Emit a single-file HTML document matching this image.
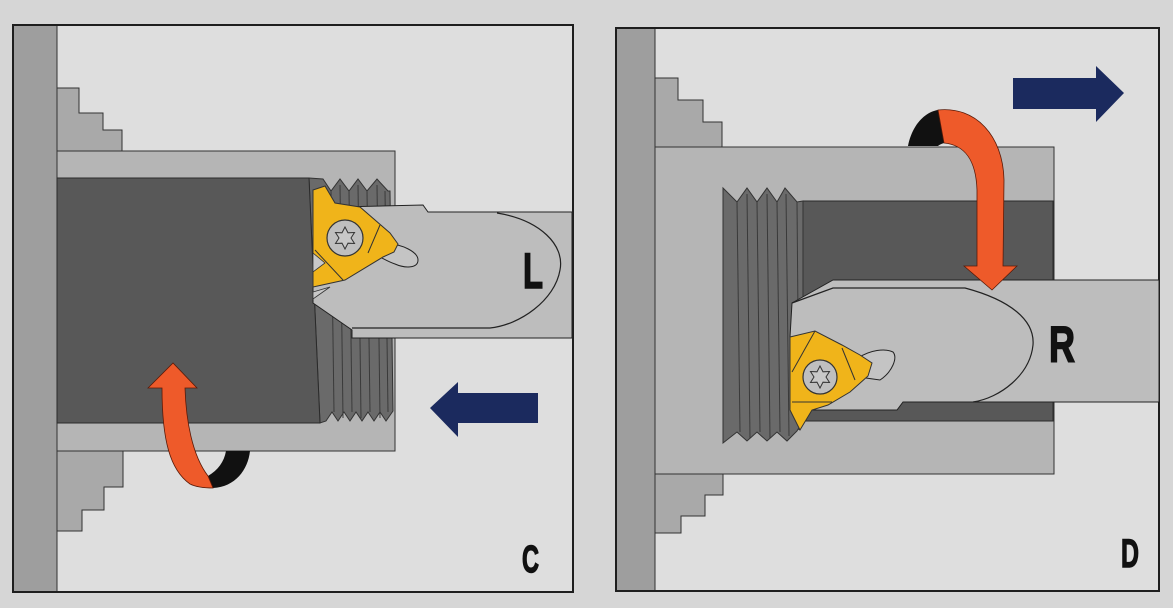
<!DOCTYPE html>
<html><head><meta charset="utf-8"><style>
html,body{margin:0;padding:0;background:#d6d6d6;}
svg{display:block;}
</style></head><body>
<svg width="1173" height="608" viewBox="0 0 1173 608" xmlns="http://www.w3.org/2000/svg">
<rect x="0" y="0" width="1173" height="608" fill="#d6d6d6"/>

<!-- ================= PANEL C ================= -->
<rect x="13" y="25" width="560" height="567" fill="#dedede" stroke="#1e1e1e" stroke-width="2"/>
<rect x="14" y="26" width="43" height="565" fill="#9e9e9e"/>
<line x1="57" y1="26" x2="57" y2="591" stroke="#333" stroke-width="1"/>
<polygon points="57,88 79,88 79,113 103,113 103,130 122,130 122,151 57,151" fill="#a9a9a9" stroke="#333" stroke-width="1"/>
<polygon points="57,451 123,451 123,487 104,487 104,510 82,510 82,531 57,531" fill="#a9a9a9" stroke="#333" stroke-width="1"/>
<rect x="57" y="151" width="338" height="300" fill="#b5b5b5" stroke="#333" stroke-width="1"/>
<path d="M309,178 L323,179 L331,191 L340,179 L349,191 L358,179 L367,191 L377,179 L388,191 L390,191 L393,411 L386,421 L380,412 L374,421 L368,412 L362,421 L356,412 L350,421 L344,412 L338,421 L332,412 L326,421 L320,423 Z" fill="#6a6a6a" stroke="#333" stroke-width="1"/>
<g stroke="#3a3a3a" stroke-width="1">
<line x1="331" y1="191" x2="334" y2="412"/>
<line x1="340" y1="185" x2="343" y2="418"/>
<line x1="349" y1="191" x2="352" y2="412"/>
<line x1="358" y1="185" x2="361" y2="418"/>
<line x1="367" y1="191" x2="370" y2="412"/>
<line x1="377" y1="185" x2="380" y2="418"/>
<line x1="385" y1="191" x2="388" y2="412"/>
</g>
<polygon points="57,178 309,178 320,423 57,423" fill="#585858" stroke="#2a2a2a" stroke-width="1"/>
<polygon points="340,207 423,205 428,212 572,212 572,338 352,338 352,330 313,303 313,262" fill="#bdbdbd" stroke="#222" stroke-width="1"/>
<path d="M497,213 C540,220 565,245 560,270 C555,300 520,325 490,328 L352,328" fill="none" stroke="#222" stroke-width="1.2"/>
<path d="M388,244 C402,244 418,252 418,260 C418,269 404,268 395,264 C389,262 384,259 380,257 Z" fill="#c4c4c4" stroke="#222" stroke-width="1"/>
<polygon points="313,190 325,186 335,203 360,207 390,233 398,244 394,252 383,257 345,280 313,287" fill="#f0b41a" stroke="#333" stroke-width="1"/>
<polygon points="313,253 325,263 313,272" fill="#c8c8c8" stroke="#333" stroke-width="0.8"/>
<polygon points="313,292 330,287 313,299" fill="#c8c8c8" stroke="#333" stroke-width="0.8"/>
<line x1="380" y1="225" x2="368" y2="253" stroke="#333" stroke-width="1"/>
<line x1="315" y1="250" x2="343" y2="280" stroke="#333" stroke-width="1"/>
<circle cx="345" cy="238" r="18" fill="#bfbfbf" stroke="#333" stroke-width="1.2"/>
<g transform="translate(345,238)"><polygon points="0,-11 3,-5.2 9.5,-5.5 6,0 9.5,5.5 3,5.2 0,11 -3,5.2 -9.5,5.5 -6,0 -9.5,-5.5 -3,-5.2" fill="#c8c8c8" stroke="#333" stroke-width="1"/></g>
<path d="M208,476 C218,470 224,462 226,451 L250,451 C248,470 235,487 213,488 Z" fill="#111"/>
<path d="M148,388 L173,363 L197,388 L185,388 C186,420 192,455 208,476 L213,488 C204,488 196,487 190,484 C170,470 162,440 162,388 Z" fill="#ee5a2a" stroke="#5a1a08" stroke-width="0.8"/>
<polygon points="430,408 458,382 458,393 538,393 538,423 458,423 458,437" fill="#1b2a5e"/>
<text x="523" y="288" font-family="Liberation Sans Narrow, Liberation Sans, sans-serif" font-weight="bold" font-size="50" textLength="20" lengthAdjust="spacingAndGlyphs" fill="#111" stroke="#111" stroke-width="1.6">L</text>
<text x="522" y="572" font-family="Liberation Sans Narrow, Liberation Sans, sans-serif" font-weight="bold" font-size="38" textLength="17" lengthAdjust="spacingAndGlyphs" fill="#111" stroke="#111" stroke-width="1.4">C</text>

<!-- ================= PANEL D ================= -->
<rect x="616" y="28" width="543" height="563" fill="#dedede" stroke="#1e1e1e" stroke-width="2"/>
<rect x="617" y="29" width="38" height="561" fill="#9e9e9e"/>
<line x1="655" y1="29" x2="655" y2="590" stroke="#333" stroke-width="1"/>
<polygon points="655,78 678,78 678,100 703,100 703,122 722,122 722,147 655,147" fill="#a9a9a9" stroke="#333" stroke-width="1"/>
<polygon points="655,474 723,474 723,495 705,495 705,516 681,516 681,533 655,533" fill="#a9a9a9" stroke="#333" stroke-width="1"/>
<rect x="655" y="147" width="399" height="327" fill="#b5b5b5" stroke="#333" stroke-width="1"/>
<rect x="803" y="201" width="250" height="220" fill="#585858" stroke="#2a2a2a" stroke-width="1"/>
<path d="M723,188 L737,202 L747,188 L757,202 L767,188 L777,202 L785,188 L797,202 L803,201 L803,421 L797,431 L787,441 L777,432 L767,441 L757,432 L747,441 L737,432 L723,443 Z" fill="#6a6a6a" stroke="#333" stroke-width="1"/>
<g stroke="#3a3a3a" stroke-width="1">
<line x1="737" y1="202" x2="740" y2="432"/>
<line x1="747" y1="194" x2="750" y2="438"/>
<line x1="757" y1="202" x2="760" y2="432"/>
<line x1="767" y1="194" x2="770" y2="438"/>
<line x1="777" y1="202" x2="780" y2="432"/>
<line x1="786" y1="194" x2="789" y2="436"/>
<line x1="797" y1="202" x2="799" y2="430"/>
</g>
<polygon points="833,280 1159,280 1159,402 903,402 897,410 812,410 790,337 792,303" fill="#bdbdbd" stroke="#222" stroke-width="1"/>
<path d="M792,303 L833,288 L965,288 C1010,300 1035,320 1033,345 C1030,375 1000,398 973,402" fill="none" stroke="#222" stroke-width="1.2"/>
<path d="M858,358 C870,350 885,348 893,352 C898,358 892,372 880,380 L866,378 Z" fill="#c4c4c4" stroke="#222" stroke-width="1"/>
<polygon points="790,337 815,331 842,345 860,355 872,363 868,376 850,392 828,405 812,410 800,430 790,410" fill="#f0b41a" stroke="#333" stroke-width="1"/>
<line x1="815" y1="331" x2="792" y2="372" stroke="#333" stroke-width="1"/>
<line x1="842" y1="348" x2="855" y2="380" stroke="#333" stroke-width="1"/>
<line x1="792" y1="402" x2="832" y2="402" stroke="#333" stroke-width="1"/>
<circle cx="820" cy="377" r="17" fill="#bfbfbf" stroke="#333" stroke-width="1.2"/>
<g transform="translate(820,377)"><polygon points="0,-11 3,-5.2 9.5,-5.5 6,0 9.5,5.5 3,5.2 0,11 -3,5.2 -9.5,5.5 -6,0 -9.5,-5.5 -3,-5.2" fill="#c8c8c8" stroke="#333" stroke-width="1"/></g>
<path d="M908,146 C912,125 925,112 938,110 L944,143 C941,144 939,145 938,146 Z" fill="#111"/>
<path d="M938,110 C975,106 1003,135 1004,180 L1003,266 L1017,266 L992,290 L964,266 L977,266 L977,190 C976,160 965,145 944,143 Z" fill="#ee5a2a" stroke="#5a1a08" stroke-width="0.8"/>
<polygon points="1013,78 1096,78 1096,66 1124,93 1096,122 1096,109 1013,109" fill="#1b2a5e"/>
<text x="1049" y="362" font-family="Liberation Sans Narrow, Liberation Sans, sans-serif" font-weight="bold" font-size="51" textLength="26" lengthAdjust="spacingAndGlyphs" fill="#111" stroke="#111" stroke-width="1.6">R</text>
<text x="1121" y="567" font-family="Liberation Sans Narrow, Liberation Sans, sans-serif" font-weight="bold" font-size="40" textLength="18" lengthAdjust="spacingAndGlyphs" fill="#111" stroke="#111" stroke-width="1.4">D</text>
</svg>
</body></html>
